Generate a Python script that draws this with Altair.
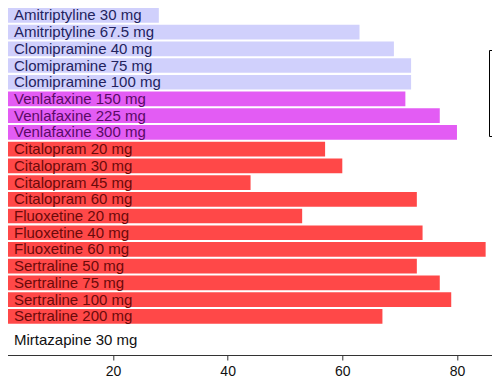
import altair as alt
import pandas as pd

drugs = [
    "Amitriptyline 30 mg", "Amitriptyline 67.5 mg",
    "Clomipramine 40 mg", "Clomipramine 75 mg", "Clomipramine 100 mg",
    "Venlafaxine 150 mg", "Venlafaxine 225 mg", "Venlafaxine 300 mg",
    "Citalopram 20 mg", "Citalopram 30 mg", "Citalopram 45 mg", "Citalopram 60 mg",
    "Fluoxetine 20 mg", "Fluoxetine 40 mg", "Fluoxetine 60 mg",
    "Sertraline 50 mg", "Sertraline 75 mg", "Sertraline 100 mg", "Sertraline 200 mg",
    "Mirtazapine 30 mg",
]
values = [28, 63, 69, 72, 72, 71, 77, 80, 57, 60, 44, 73, 53, 74, 85, 73, 77, 79, 67, 0]
classes = [
    "TCA", "TCA", "TCA", "TCA", "TCA",
    "SNRI", "SNRI", "SNRI",
    "SSRI", "SSRI", "SSRI", "SSRI", "SSRI", "SSRI", "SSRI", "SSRI", "SSRI", "SSRI", "SSRI",
    "NaSSA",
]
class_names = ["TCA", "SNRI", "SSRI", "NaSSA"]
bar_colors = ["#d0d0fc", "#e35cf4", "#ff4848", "#ffffff"]
text_colors = ["#23235e", "#5a0a66", "#6b0a0a", "#111111"]
x_ticks = [0, 20, 40, 60, 80]

tmap = dict(zip(class_names, text_colors))
df = pd.DataFrame({"drug": drugs, "value": values, "cls": classes})
df["tcolor"] = df["cls"].map(tmap)

yenc = alt.Y("drug:N", sort=drugs, axis=None,
             scale=alt.Scale(paddingInner=0.121, paddingOuter=0.873))

bars = alt.Chart(df).mark_bar().encode(
    x=alt.X("value:Q", scale=alt.Scale(domain=[0, 90], nice=False),
            axis=alt.Axis(values=x_ticks, title=None, grid=False, format="d",
                          labelFontSize=14, labelColor="#111111", labelFont="Liberation Sans",
                          domainColor="#333333", tickColor="#333333", tickSize=5,
                          labelPadding=4)),
    y=yenc,
    color=alt.Color("cls:N", scale=alt.Scale(domain=class_names, range=bar_colors),
                    legend=alt.Legend(title=None, orient="none", legendX=490.7, legendY=56.6,
                                      strokeColor="black", fillColor="white", padding=9,
                                      symbolType="square", labelFontSize=14, rowPadding=4,
                                      symbolStrokeColor="black", symbolStrokeWidth=0.5)),
)

labels = alt.Chart(df).transform_filter(alt.datum.cls != "NaSSA").mark_text(
    align="left", baseline="middle", dx=15.7, fontSize=15, font="Liberation Sans"
).encode(
    x=alt.datum(0),
    y=yenc,
    text="drug:N",
    color=alt.Color("tcolor:N", scale=None),
)

labels2 = alt.Chart(df).transform_filter(alt.datum.cls == "NaSSA").mark_text(
    align="left", baseline="middle", dx=15.7, dy=7, fontSize=15, font="Liberation Sans"
).encode(
    x=alt.datum(0),
    y=yenc,
    text="drug:N",
    color=alt.Color("tcolor:N", scale=None),
)

chart = alt.layer(bars, labels, labels2).properties(
    width=516, height=361.6,
    autosize=alt.AutoSizeParams(type="none"),
    padding={"left": -9.7, "top": -14.6, "right": -22.3, "bottom": 28},
    background="white",
).configure_view(stroke=None)

chart.save("out.html", embed_options={"renderer": "svg", "actions": False})
